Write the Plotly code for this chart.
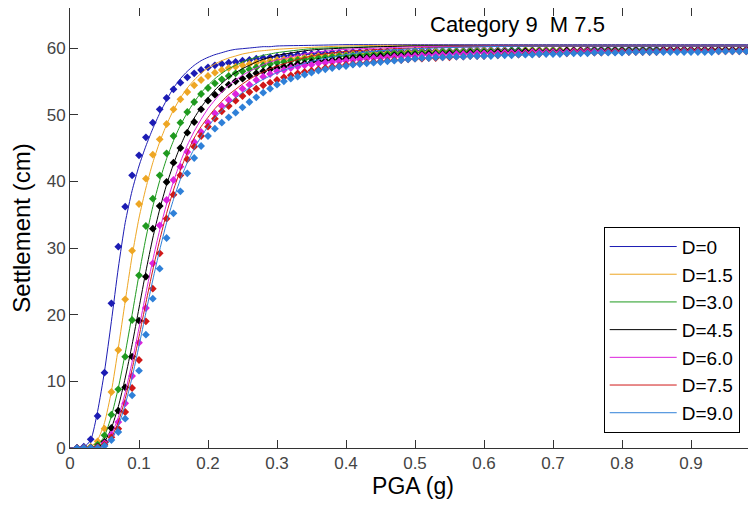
import plotly.graph_objects as go

# PGA (g) of the measured points
pga = [0.01, 0.02, 0.03, 0.04, 0.05, 0.06, 0.07, 0.08, 0.09, 0.10,
       0.11, 0.12, 0.13, 0.14, 0.15, 0.16, 0.17, 0.18, 0.19, 0.20,
       0.21, 0.22, 0.23, 0.24, 0.25, 0.26, 0.27, 0.28, 0.29, 0.30,
       0.31, 0.32, 0.33, 0.34, 0.35, 0.36, 0.37, 0.38, 0.39, 0.40,
       0.41, 0.42, 0.43, 0.44, 0.45, 0.46, 0.47, 0.48, 0.49, 0.50,
       0.51, 0.52, 0.53, 0.54, 0.55, 0.56, 0.57, 0.58, 0.59, 0.60,
       0.61, 0.62, 0.63, 0.64, 0.65, 0.66, 0.67, 0.68, 0.69, 0.70,
       0.71, 0.72, 0.73, 0.74, 0.75, 0.76, 0.77, 0.78, 0.79, 0.80,
       0.81, 0.82, 0.83, 0.84, 0.85, 0.86, 0.87, 0.88, 0.89, 0.90,
       0.91, 0.92, 0.93, 0.94, 0.95, 0.96, 0.97, 0.98, 0.99, 1.00]

# PGA (g) of the fitted curves
pga_fit = [0.00, 0.01, 0.02, 0.03, 0.04, 0.05, 0.06, 0.07, 0.08, 0.09,
           0.10, 0.11, 0.12, 0.13, 0.14, 0.15, 0.16, 0.17, 0.18, 0.19,
           0.20, 0.21, 0.22, 0.23, 0.24, 0.25, 0.26, 0.27, 0.28, 0.29,
           0.30, 0.35, 0.40, 0.45, 0.50, 0.60, 0.70, 0.80, 0.90, 1.00]

labels = ["D=0", "D=1.5", "D=3.0", "D=4.5", "D=6.0", "D=7.5", "D=9.0"]
colors = ["#1c1cb4", "#eea623", "#1f9a1f", "#000000", "#dd22dd", "#d01818", "#2f80d8"]

# settlement (cm), points
pts_d0 = [0.0, 0.2, 1.3, 4.8, 11.3, 21.7, 30.2, 36.2, 40.9, 43.9,
          46.6, 48.8, 50.8, 52.5, 53.8, 54.8, 55.6, 56.2, 56.7, 57.1,
          57.4, 57.6, 57.8, 57.9, 58.1, 58.2, 58.4, 58.5, 58.6, 58.7,
          58.8, 58.9, 59.0, 59.1, 59.1, 59.2, 59.2, 59.3, 59.3, 59.3,
          59.4, 59.4, 59.4, 59.4, 59.5, 59.5, 59.5, 59.5, 59.5, 59.6,
          59.6, 59.6, 59.6, 59.6, 59.6, 59.6, 59.6, 59.7, 59.7, 59.7,
          59.7, 59.7, 59.7, 59.7, 59.7, 59.7, 59.7, 59.7, 59.7, 59.7,
          59.7, 59.7, 59.7, 59.7, 59.8, 59.8, 59.8, 59.8, 59.8, 59.8,
          59.8, 59.8, 59.8, 59.8, 59.8, 59.8, 59.8, 59.8, 59.8, 59.8,
          59.8, 59.8, 59.8, 59.8, 59.8, 59.8, 59.8, 59.8, 59.8, 59.8]
pts_d15 = [0.0, 0.0, 0.2, 1.0, 2.9, 8.4, 14.7, 22.3, 29.6, 36.6,
           40.4, 44.0, 46.3, 48.6, 50.8, 52.3, 53.4, 54.4, 55.2, 55.8,
           56.3, 56.7, 57.0, 57.2, 57.4, 57.6, 57.8, 57.9, 58.1, 58.2,
           58.3, 58.4, 58.5, 58.6, 58.7, 58.8, 58.8, 58.9, 59.0, 59.0,
           59.1, 59.1, 59.2, 59.2, 59.2, 59.3, 59.3, 59.3, 59.4, 59.4,
           59.4, 59.4, 59.5, 59.5, 59.5, 59.5, 59.5, 59.6, 59.6, 59.6,
           59.6, 59.6, 59.6, 59.6, 59.6, 59.7, 59.7, 59.7, 59.7, 59.7,
           59.7, 59.7, 59.7, 59.7, 59.7, 59.7, 59.7, 59.7, 59.7, 59.7,
           59.7, 59.7, 59.7, 59.7, 59.7, 59.8, 59.8, 59.8, 59.8, 59.8,
           59.8, 59.8, 59.8, 59.8, 59.8, 59.8, 59.8, 59.8, 59.8, 59.8]
pts_d30 = [0.0, 0.0, 0.1, 0.5, 1.9, 5.0, 8.8, 13.7, 19.2, 25.9,
           33.3, 37.4, 40.9, 44.2, 46.8, 48.8, 50.4, 51.9, 53.1, 54.0,
           54.7, 55.3, 55.8, 56.2, 56.5, 56.8, 57.1, 57.4, 57.6, 57.8,
           57.9, 58.1, 58.2, 58.3, 58.4, 58.5, 58.6, 58.7, 58.8, 58.8,
           58.9, 58.9, 59.0, 59.0, 59.1, 59.1, 59.2, 59.2, 59.2, 59.3,
           59.3, 59.3, 59.3, 59.4, 59.4, 59.4, 59.4, 59.5, 59.5, 59.5,
           59.5, 59.5, 59.5, 59.6, 59.6, 59.6, 59.6, 59.6, 59.6, 59.6,
           59.6, 59.6, 59.6, 59.6, 59.6, 59.7, 59.7, 59.7, 59.7, 59.7,
           59.7, 59.7, 59.7, 59.7, 59.7, 59.7, 59.7, 59.7, 59.7, 59.7,
           59.7, 59.7, 59.7, 59.7, 59.7, 59.7, 59.7, 59.7, 59.7, 59.7]
pts_d45 = [0.0, 0.0, 0.0, 0.2, 0.9, 3.0, 5.6, 9.1, 13.7, 19.1,
           25.7, 32.9, 36.3, 39.9, 42.8, 45.0, 47.3, 48.9, 50.8, 52.1,
           53.0, 53.8, 54.5, 55.0, 55.4, 55.8, 56.2, 56.5, 56.8, 57.0,
           57.2, 57.4, 57.6, 57.7, 57.9, 58.0, 58.1, 58.2, 58.3, 58.4,
           58.5, 58.6, 58.6, 58.7, 58.8, 58.8, 58.9, 58.9, 59.0, 59.0,
           59.0, 59.1, 59.1, 59.1, 59.2, 59.2, 59.2, 59.3, 59.3, 59.3,
           59.3, 59.4, 59.4, 59.4, 59.4, 59.5, 59.5, 59.5, 59.5, 59.5,
           59.5, 59.6, 59.6, 59.6, 59.6, 59.6, 59.6, 59.6, 59.6, 59.6,
           59.6, 59.6, 59.6, 59.6, 59.6, 59.7, 59.7, 59.7, 59.7, 59.7,
           59.7, 59.7, 59.7, 59.7, 59.7, 59.7, 59.7, 59.7, 59.7, 59.7]
pts_d60 = [0.0, 0.0, 0.0, 0.1, 0.7, 2.0, 3.9, 6.7, 10.8, 15.8,
           21.0, 27.7, 33.4, 37.2, 40.2, 42.2, 44.4, 45.9, 47.4, 48.8,
           50.2, 51.3, 52.2, 53.1, 53.9, 54.5, 55.2, 55.7, 56.1, 56.5,
           56.7, 57.0, 57.2, 57.4, 57.5, 57.7, 57.8, 57.9, 58.0, 58.1,
           58.2, 58.3, 58.4, 58.5, 58.5, 58.6, 58.7, 58.7, 58.8, 58.8,
           58.9, 58.9, 59.0, 59.0, 59.0, 59.1, 59.1, 59.1, 59.2, 59.2,
           59.2, 59.2, 59.3, 59.3, 59.3, 59.3, 59.4, 59.4, 59.4, 59.4,
           59.4, 59.4, 59.5, 59.5, 59.5, 59.5, 59.5, 59.5, 59.5, 59.5,
           59.5, 59.5, 59.5, 59.5, 59.5, 59.6, 59.6, 59.6, 59.6, 59.6,
           59.6, 59.6, 59.6, 59.6, 59.6, 59.6, 59.6, 59.6, 59.6, 59.6]
pts_d75 = [0.0, 0.0, 0.0, 0.1, 0.5, 1.6, 2.9, 5.4, 9.0, 13.2,
           19.0, 23.9, 29.2, 34.4, 38.0, 40.9, 43.3, 45.2, 46.8, 48.2,
           49.4, 50.5, 51.3, 52.1, 52.8, 53.4, 53.9, 54.4, 54.8, 55.2,
           55.6, 55.9, 56.2, 56.4, 56.6, 56.8, 57.0, 57.2, 57.3, 57.5,
           57.6, 57.7, 57.8, 57.9, 58.0, 58.1, 58.2, 58.2, 58.3, 58.4,
           58.4, 58.5, 58.5, 58.6, 58.6, 58.7, 58.7, 58.8, 58.8, 58.8,
           58.9, 58.9, 59.0, 59.0, 59.0, 59.1, 59.1, 59.1, 59.2, 59.2,
           59.2, 59.2, 59.3, 59.3, 59.3, 59.3, 59.3, 59.4, 59.4, 59.4,
           59.4, 59.4, 59.4, 59.4, 59.4, 59.5, 59.5, 59.5, 59.5, 59.5,
           59.5, 59.5, 59.5, 59.5, 59.5, 59.5, 59.5, 59.5, 59.5, 59.5]
pts_d90 = [0.0, 0.0, 0.0, 0.0, 0.3, 1.2, 2.4, 4.4, 7.9, 11.6,
           17.0, 22.4, 26.9, 31.5, 35.2, 38.5, 41.2, 43.5, 45.3, 46.8,
           47.9, 48.8, 49.6, 50.3, 51.1, 51.9, 52.6, 53.3, 53.9, 54.5,
           55.0, 55.4, 55.7, 56.0, 56.3, 56.6, 56.8, 57.0, 57.2, 57.3,
           57.5, 57.6, 57.7, 57.8, 57.9, 58.0, 58.1, 58.2, 58.3, 58.4,
           58.5, 58.5, 58.6, 58.6, 58.7, 58.7, 58.7, 58.8, 58.8, 58.8,
           58.8, 58.9, 58.9, 58.9, 59.0, 59.0, 59.0, 59.1, 59.1, 59.1,
           59.1, 59.2, 59.2, 59.2, 59.2, 59.3, 59.3, 59.3, 59.3, 59.3,
           59.4, 59.4, 59.4, 59.4, 59.4, 59.4, 59.4, 59.4, 59.4, 59.4,
           59.4, 59.4, 59.4, 59.5, 59.5, 59.5, 59.5, 59.5, 59.5, 59.5]

# settlement (cm), fitted curves
fit_d0 = [0.0, 0.0, 0.1, 1.2, 5.5, 11.5, 19.0, 27.0, 33.8, 38.6,
          42.3, 45.3, 47.9, 50.2, 52.2, 54.0, 55.4, 56.5, 57.4, 58.1,
          58.6, 59.0, 59.3, 59.6, 59.8, 59.9, 60.0, 60.1, 60.2, 60.2,
          60.3, 60.4, 60.5, 60.5, 60.5, 60.5, 60.5, 60.5, 60.5, 60.5]
fit_d15 = [0.0, 0.0, 0.0, 0.2, 1.2, 3.8, 8.5, 15.0, 22.0, 28.8,
           34.5, 39.0, 42.8, 45.9, 48.5, 50.7, 52.5, 54.0, 55.2, 56.2,
           57.0, 57.6, 58.1, 58.5, 58.8, 59.1, 59.3, 59.5, 59.6, 59.7,
           59.8, 60.1, 60.3, 60.4, 60.4, 60.4, 60.4, 60.4, 60.4, 60.4]
fit_d30 = [0.0, 0.0, 0.0, 0.0, 0.4, 1.8, 4.8, 9.0, 14.2, 20.0,
           26.0, 31.5, 36.2, 40.1, 43.4, 46.1, 48.4, 50.3, 51.9, 53.3,
           54.4, 55.4, 56.2, 56.9, 57.4, 57.9, 58.3, 58.6, 58.9, 59.1,
           59.3, 59.9, 60.1, 60.2, 60.3, 60.3, 60.3, 60.3, 60.3, 60.3]
fit_d45 = [0.0, 0.0, 0.0, 0.0, 0.1, 0.9, 3.0, 6.2, 10.5, 15.5,
           21.0, 26.5, 31.5, 35.8, 39.5, 42.6, 45.3, 47.6, 49.5, 51.1,
           52.5, 53.7, 54.7, 55.6, 56.3, 56.9, 57.4, 57.9, 58.3, 58.6,
           58.9, 59.7, 60.0, 60.2, 60.3, 60.3, 60.3, 60.3, 60.3, 60.3]
fit_d60 = [0.0, 0.0, 0.0, 0.0, 0.0, 0.5, 2.0, 4.6, 8.3, 12.9,
           18.0, 23.2, 28.2, 32.7, 36.6, 40.0, 42.9, 45.4, 47.5, 49.3,
           50.9, 52.2, 53.4, 54.4, 55.2, 55.9, 56.5, 57.0, 57.5, 57.9,
           58.2, 59.3, 59.8, 60.0, 60.2, 60.3, 60.3, 60.3, 60.3, 60.3]
fit_d75 = [0.0, 0.0, 0.0, 0.0, 0.0, 0.4, 1.6, 3.9, 7.4, 11.8,
           16.7, 21.8, 26.7, 31.2, 35.2, 38.7, 41.7, 44.3, 46.5, 48.2,
           49.6, 50.9, 52.0, 53.0, 53.8, 54.6, 55.3, 55.9, 56.4, 56.9,
           57.3, 58.8, 59.5, 59.8, 60.0, 60.2, 60.3, 60.3, 60.3, 60.3]
fit_d90 = [0.0, 0.0, 0.0, 0.0, 0.0, 0.3, 1.3, 3.3, 6.5, 10.6,
           15.3, 20.3, 25.2, 29.7, 33.8, 37.3, 40.3, 42.8, 44.9, 46.7,
           48.2, 49.5, 50.6, 51.6, 52.5, 53.3, 54.0, 54.7, 55.3, 55.8,
           56.3, 58.0, 59.0, 59.6, 59.9, 60.2, 60.3, 60.3, 60.3, 60.3]

points = [pts_d0, pts_d15, pts_d30, pts_d45, pts_d60, pts_d75, pts_d90]
fits = [fit_d0, fit_d15, fit_d30, fit_d45, fit_d60, fit_d75, fit_d90]

fig = go.Figure()

# fitted line + measured diamonds for each depth
for name, col, pts, fit in zip(labels, colors, points, fits):
    fig.add_trace(go.Scatter(
        x=pga_fit, y=fit, mode="lines", name=name, legendgroup=name,
        line=dict(color=col, width=1, shape="spline", smoothing=0.6),
    ))
    fig.add_trace(go.Scatter(
        x=pga, y=pts, mode="markers", name=name, legendgroup=name, showlegend=False,
        marker=dict(symbol="diamond", size=6, color=col, line=dict(width=0)),
    ))

axis_style = dict(
    showline=True, linecolor="#333333", linewidth=1, mirror="ticks",
    ticks="inside", ticklen=8, tickcolor="#333333",
    showgrid=False, zeroline=False, automargin=False,
    tickfont=dict(size=17, color="#444444"),
)

# the page body adds an 8px offset, so margins are shifted to compensate
fig.update_layout(
    width=756, height=506,
    margin=dict(l=62, r=8, t=0, b=66),
    paper_bgcolor="white", plot_bgcolor="white",
    font=dict(family="Arial, Liberation Sans, sans-serif", color="black"),
    xaxis=dict(range=[0, 0.9942], dtick=0.1, tick0=0,
               title=dict(text="PGA (g)", font=dict(size=23), standoff=2),
               **axis_style),
    yaxis=dict(range=[0, 66.0], dtick=10, tick0=0,
               title=dict(text="Settlement (cm)", font=dict(size=24), standoff=9),
               **axis_style),
    legend=dict(
        x=0.778, y=0.503, xanchor="left", yanchor="top",
        bgcolor="white", bordercolor="black", borderwidth=1,
        font=dict(size=19, color="black"), tracegroupgap=0,
        itemwidth=67,
    ),
    showlegend=True,
    annotations=[dict(
        text="Category 9  M 7.5", xref="x", yref="y", x=0.648, y=63.5,
        showarrow=False, font=dict(size=22, color="black"),
    )],
)

fig.write_html("out.html")
